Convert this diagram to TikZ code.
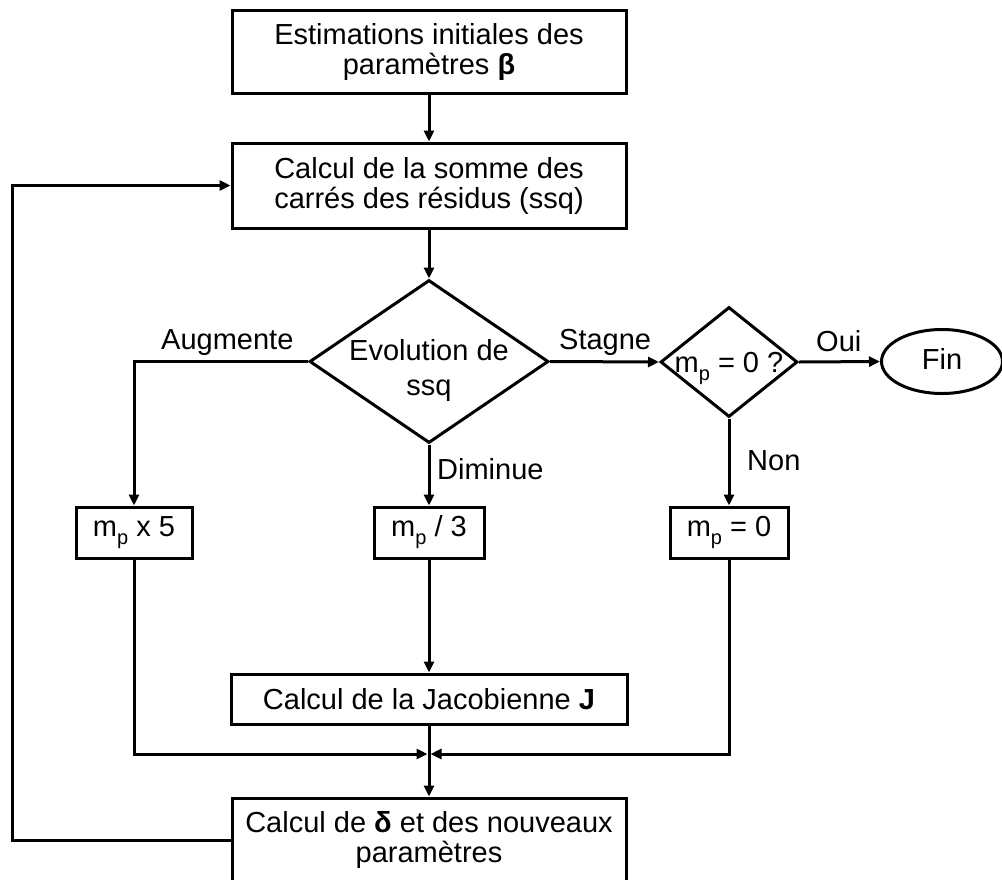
\documentclass[tikz,border=0pt]{standalone}
\usepackage{fontspec}
\setmainfont{Liberation Sans}
\usetikzlibrary{shapes.geometric,arrows.meta}
\newcommand{\mpsub}{m\raisebox{-8pt}{\fontsize{20}{20}\selectfont p}}
\begin{document}
\begin{tikzpicture}[x=1pt,y=-1pt,
  every node/.style={font=\fontsize{29}{30}\selectfont},
  box/.style={draw, line width=3pt, align=center, inner sep=0pt},
  arr/.style={line width=3pt, -{Triangle[length=11pt,width=10pt]}},
  lbl/.style={inner sep=0pt, anchor=base west}]
\useasboundingbox (0,0) rectangle (1002,879);

% boxes
\node[box, minimum width=394pt, minimum height=83pt] (b1) at (429,51.5) {Estimations initiales des\\paramètres \textbf{β}};
\node[box, minimum width=394pt, minimum height=85pt] (b2) at (429,185.5) {Calcul de la somme des\\carrés des résidus (ssq)};
\node[draw, diamond, line width=3pt, minimum width=239pt, minimum height=163pt, inner sep=0pt] (d1) at (429,361.5)
  {\makebox[0pt]{\raisebox{1.5pt}[0pt][0pt]{\fontsize{29}{35}\selectfont\begin{tabular}[t]{@{}c@{}}Evolution de\\ssq\end{tabular}}}};
\node[draw, diamond, line width=3pt, minimum width=137pt, minimum height=110pt, inner sep=0pt] (d2) at (729,362)
  {\makebox[0pt]{\raisebox{-10pt}[0pt][0pt]{\mpsub{} = 0 ?}}};
\node[draw, ellipse, line width=3pt, minimum width=121pt, minimum height=64pt, inner sep=0pt] (e) at (942,361.5)
  {\makebox[0pt]{\raisebox{-7.5pt}[0pt][0pt]{Fin}}};
\node[box, minimum width=116pt, minimum height=51pt] (m5) at (134,532.5) {\mpsub{} x 5};
\node[box, minimum width=110pt, minimum height=51pt] (m3) at (429,532.5) {\mpsub{} / 3};
\node[box, minimum width=118pt, minimum height=51pt] (m0) at (729,532.5) {\mpsub{} = 0};
\node[box, minimum width=396pt, minimum height=50pt] (J) at (429,699) {Calcul de la Jacobienne \textbf{J}};
\node[box, minimum width=394pt, minimum height=84pt] (b3) at (429,840) {Calcul de \textbf{δ} et des nouveaux\\paramètres};

% labels
\node[lbl] (la) at (161,349) {Augmente};
\node[lbl] (ls) at (559,349) {Stagne};
\node[lbl] (ld) at (437,479) {Diminue};
\node[lbl] (lo) at (816,351) {Oui};
\node[lbl] (lnn) at (747,470) {Non};

% connectors
\coordinate (jn) at (429,754);
\coordinate (lp) at (12,840);
\draw[arr] (b1) -- (b2);
\draw[arr] (b2) -- (d1);
\draw[arr] (d1.west) -| (m5.north);
\draw[arr] (d1.east) -- (d2.west);
\draw[arr] (d2.east) -- (e.west);
\draw[arr] (d2.south) -- (m0.north);
\draw[arr] (d1.south) -- (m3.north);
\draw[arr] (m3) -- (J);
\draw[arr] (J.south) -- (b3.north);
\draw[arr, shorten >=1.5pt] (m5.south) |- (jn);
\draw[arr, shorten >=1.5pt] (m0.south) |- (jn);
\draw[arr] (b3.west) -- (lp) |- (b2.west);
\end{tikzpicture}
\end{document}
